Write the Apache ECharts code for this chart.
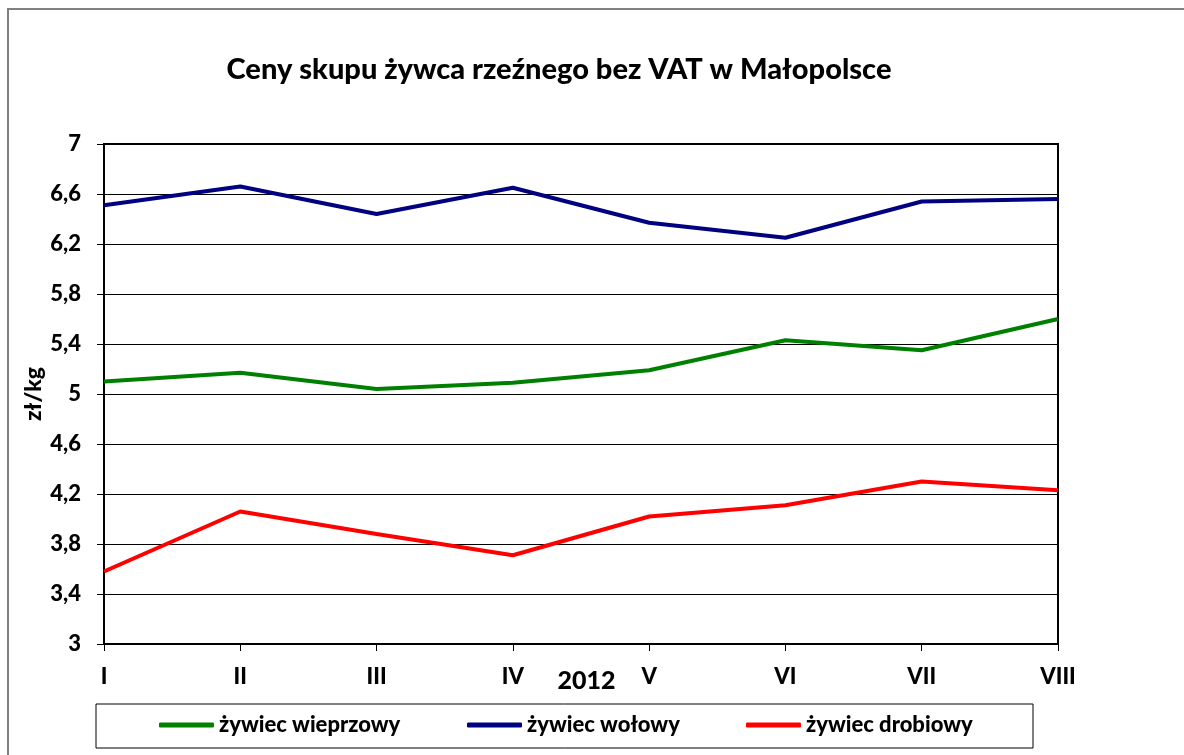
<!DOCTYPE html>
<html>
<head>
<meta charset="utf-8">
<script src="https://cdn.jsdelivr.net/npm/echarts@6/dist/echarts.min.js"></script>
<style>
  html, body { margin: 0; padding: 0; background: #fff; }
  #chart { width: 1184px; height: 755px; }
</style>
</head>
<body>
<div id="chart"></div>
<script>
// months of 2012
const months = ['I', 'II', 'III', 'IV', 'V', 'VI', 'VII', 'VIII'];

// zł/kg
const wieprzowy = [5.10, 5.17, 5.04, 5.09, 5.19, 5.43, 5.35, 5.60];
const wolowy    = [6.51, 6.66, 6.44, 6.65, 6.37, 6.25, 6.54, 6.56];
const drobiowy  = [3.58, 4.06, 3.88, 3.71, 4.02, 4.11, 4.30, 4.23];

const seriesNames = ['żywiec wieprzowy', 'żywiec wołowy', 'żywiec drobiowy'];
const seriesColors = ['#008000', '#000080', '#ff0000'];

const FONT = 'Lato, "Open Sans", sans-serif';
const WEIGHT = 900;

let chart = echarts.init(document.getElementById('chart'));

let mkSeries = function(name, data, color){
    return {
        name: name,
        type: 'line',
        data: data,
        symbol: 'none',
        lineStyle: { color: color, width: 4 },
        itemStyle: { color: color }
    };
};

let mkLegend = function(name, left){
    return {
        data: [name],
        left: left,
        top: 714,
        padding: 0,
        icon: 'roundRect',
        itemWidth: 55,
        itemHeight: 5,
        itemGap: 0,
        textStyle: { fontFamily: FONT, fontWeight: WEIGHT, fontSize: 22, color: '#000' }
    };
};

chart.setOption({
    animation: false,
    title: {
        text: 'Ceny skupu żywca rzeźnego bez VAT w Małopolsce',
        left: 554,
        top: 50,
        textAlign: 'center',
        textStyle: { fontFamily: FONT, fontWeight: WEIGHT, fontSize: 29, color: '#000' }
    },
    legend: [
        mkLegend(seriesNames[0], 159),
        mkLegend(seriesNames[1], 467),
        mkLegend(seriesNames[2], 746)
    ],
    grid: {
        left: 104,
        right: 126,
        top: 144,
        bottom: 111,
        show: true,
        borderColor: '#000',
        borderWidth: 2
    },
    xAxis: {
        type: 'category',
        data: months,
        boundaryGap: false,
        name: '2012',
        nameLocation: 'middle',
        nameGap: 24,
        nameMoveOverlap: false,
        nameTextStyle: { fontFamily: FONT, fontWeight: WEIGHT, fontSize: 25, color: '#000', padding: [0, 0, 0, 11] },
        axisLine: { lineStyle: { color: '#000', width: 2 } },
        axisTick: { show: true, length: 7, lineStyle: { color: '#000' } },
        axisLabel: { fontFamily: FONT, fontWeight: WEIGHT, fontSize: 22, color: '#000', margin: 22 },
        splitLine: { show: false }
    },
    yAxis: {
        type: 'value',
        min: 3,
        max: 7,
        interval: 0.4,
        name: 'zł/kg',
        nameLocation: 'middle',
        nameGap: 59,
        nameMoveOverlap: false,
        nameTextStyle: { fontFamily: FONT, fontWeight: WEIGHT, fontSize: 23, color: '#000' },
        axisLine: { show: true, lineStyle: { color: '#000', width: 2 } },
        axisTick: { show: true, length: 7, lineStyle: { color: '#000' } },
        axisLabel: {
            fontFamily: FONT, fontWeight: WEIGHT, fontSize: 22, color: '#000', margin: 23,
            formatter: function(v){ return String(Math.round(v * 10) / 10).replace('.', ','); }
        },
        splitLine: { show: true, lineStyle: { color: '#000', width: 1 } }
    },
    graphic: [
        {
            type: 'polyline',
            shape: { points: [[8, 755], [8, 9], [1184, 9]] },
            style: { stroke: '#808080', lineWidth: 2, fill: null }
        },
        {
            type: 'rect',
            shape: { x: 96, y: 704, width: 937, height: 44 },
            style: { stroke: '#000', lineWidth: 1, fill: null }
        }
    ],
    series: [
        mkSeries(seriesNames[0], wieprzowy, seriesColors[0]),
        mkSeries(seriesNames[1], wolowy, seriesColors[1]),
        mkSeries(seriesNames[2], drobiowy, seriesColors[2])
    ]
});

window.addEventListener('resize', function(){ chart.resize(); });
</script>
</body>
</html>
